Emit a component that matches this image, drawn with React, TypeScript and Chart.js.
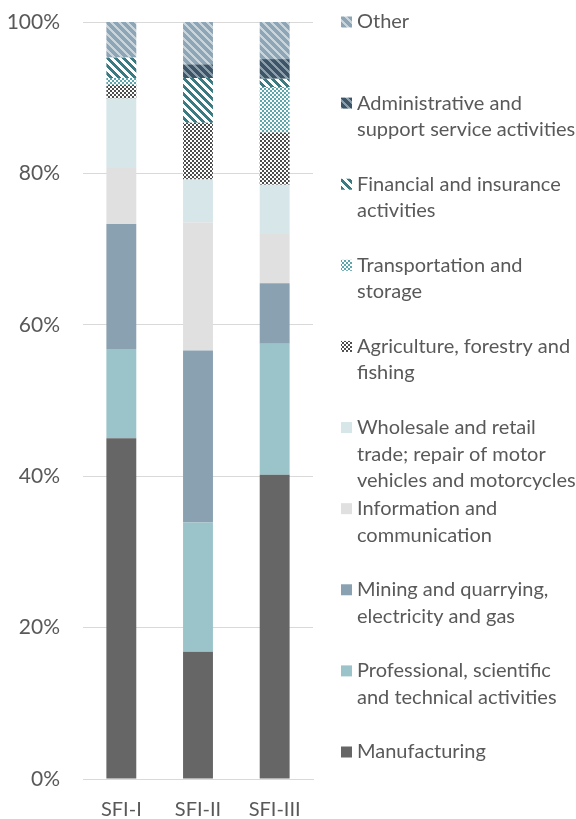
import React, { useEffect, useRef } from "react";
import { Chart, registerables } from "chart.js";

Chart.register(...registerables);

const categories = ["SFI-I", "SFI-II", "SFI-III"];

// bottom-to-top stacking order
const manufacturing = [45.0, 16.8, 40.2];
const professional = [11.8, 17.1, 17.3];
const mining = [16.5, 22.7, 8.0];
const information = [7.4, 16.9, 6.5];
const wholesale = [9.2, 5.7, 6.5];
const agriculture = [1.8, 7.5, 6.9];
const transportation = [0.9, 0.0, 6.0];
const financial = [2.7, 5.9, 1.1];
const administrative = [0.0, 1.8, 2.6];
const other = [4.7, 5.6, 4.9];

const yTicks = [0, 20, 40, 60, 80, 100];

const labelManufacturing = ["Manufacturing"];
const labelProfessional = ["Professional, scientific", "and technical activities"];
const labelMining = ["Mining and quarrying,", "electricity and gas"];
const labelInformation = ["Information and", "communication"];
const labelWholesale = ["Wholesale and retail", "trade; repair of motor", "vehicles and motorcycles"];
const labelAgriculture = ["Agriculture, forestry and", "fishing"];
const labelTransportation = ["Transportation and", "storage"];
const labelFinancial = ["Financial and insurance", "activities"];
const labelAdministrative = ["Administrative and", "support service activities"];
const labelOther = ["Other"];

type PixFn = (x: number, y: number) => string;

function makePattern(size: number, fn: PixFn): CanvasPattern | string {
  const c = document.createElement("canvas");
  c.width = size;
  c.height = size;
  const g = c.getContext("2d");
  if (!g) return "#999";
  for (let y = 0; y < size; y++) {
    for (let x = 0; x < size; x++) {
      g.fillStyle = fn(x, y);
      g.fillRect(x, y, 1, 1);
    }
  }
  const p = g.createPattern(c, "repeat");
  return p || "#999";
}

function stripes(base: string, stripe: string, period: number, w: number): PixFn {
  return (x, y) => ((((x - y) % period) + period) % period < w ? stripe : base);
}

function checker(a: string, b: string, cell: number): PixFn {
  return (x, y) => ((Math.floor(x / cell) + Math.floor(y / cell)) % 2 === 0 ? a : b);
}

export default function App() {
  const ref = useRef<HTMLCanvasElement | null>(null);

  useEffect(() => {
    if (!ref.current) return;

    const fills = {
      manufacturing: "#666666",
      professional: "#9BC4CA",
      mining: "#8AA1B1",
      information: "#E0E0E0",
      wholesale: "#D6E6E9",
      agriculture: makePattern(4, checker("#4D4D4D", "#FFFFFF", 2)),
      transportation: makePattern(4, checker("#5CA7AE", "#FFFFFF", 2)),
      financial: makePattern(8, stripes("#FFFFFF", "#3A7A80", 8, 4)),
      administrative: makePattern(8, stripes("#3E5567", "#8C9FAD", 8, 3)),
      other: makePattern(8, stripes("#8EA5B6", "#C9D5DD", 8, 3)),
    };

    const series = [
      { label: labelManufacturing, data: manufacturing, bg: fills.manufacturing },
      { label: labelProfessional, data: professional, bg: fills.professional },
      { label: labelMining, data: mining, bg: fills.mining },
      { label: labelInformation, data: information, bg: fills.information },
      { label: labelWholesale, data: wholesale, bg: fills.wholesale },
      { label: labelAgriculture, data: agriculture, bg: fills.agriculture },
      { label: labelTransportation, data: transportation, bg: fills.transportation },
      { label: labelFinancial, data: financial, bg: fills.financial },
      { label: labelAdministrative, data: administrative, bg: fills.administrative },
      { label: labelOther, data: other, bg: fills.other },
    ];

    const legendPlugin = {
      id: "sideLegend",
      afterDraw(chart: any) {
        const ctx = chart.ctx as CanvasRenderingContext2D;
        const area = chart.chartArea;
        const items = chart.data.datasets.slice().reverse();
        const n = items.length;
        const top = area.top;
        const bottom = area.bottom - 27;
        const step = (bottom - top) / (n - 1);
        const lineH = 26.5;
        ctx.save();
        ctx.font = "20px Lato";
        ctx.textBaseline = "middle";
        ctx.textAlign = "left";
        items.forEach((ds: any, i: number) => {
          const cy = top + i * step;
          ctx.fillStyle = ds.backgroundColor;
          ctx.fillRect(341, cy - 5.5, 11, 11);
          ctx.fillStyle = "#595959";
          (ds.legendLines as string[]).forEach((line, j) => {
            ctx.fillText(line, 357, cy + j * lineH);
          });
        });
        ctx.restore();
      },
    };

    const chart = new Chart(ref.current, {
      type: "bar",
      data: {
        labels: categories,
        datasets: series.map((s) => ({
          label: s.label.join(" "),
          legendLines: s.label,
          data: s.data,
          backgroundColor: s.bg as any,
          borderWidth: 0,
          categoryPercentage: 1,
          barPercentage: 0.39,
        })) as any,
      },
      options: {
        animation: false,
        responsive: false,
        devicePixelRatio: 1,
        layout: { padding: { top: 22, right: 263, left: 0, bottom: 0 } },
        plugins: {
          legend: { display: false },
          tooltip: { enabled: false },
        },
        scales: {
          x: {
            stacked: true,
            grid: { display: false, drawTicks: false },
            border: { display: true, color: "#D9D9D9", width: 1 },
            ticks: { color: "#595959", font: { family: "Lato", size: 20 }, padding: 19 },
            afterFit: (s: any) => {
              s.height = 40;
              s.paddingLeft = 0;
              s.paddingRight = 0;
            },
          },
          y: {
            stacked: true,
            min: 0,
            max: 100,
            afterBuildTicks: (s: any) => {
              s.ticks = yTicks.map((v) => ({ value: v }));
            },
            grid: { color: "#D9D9D9", lineWidth: 1, drawTicks: false },
            border: { display: false },
            ticks: {
              color: "#595959",
              font: { family: "Lato", size: 21 },
              padding: 23,
              callback: (v: any) => v + "%",
            },
            afterFit: (s: any) => {
              s.width = 83;
              s.paddingTop = 0;
              s.paddingBottom = 0;
            },
          },
        },
      },
      plugins: [legendPlugin],
    });

    return () => chart.destroy();
  }, []);

  return (
    <div style={{ position: "absolute", left: 0, top: 0, width: 576, height: 819, background: "#fff" }}>
      <canvas ref={ref} width={576} height={819} style={{ width: 576, height: 819, display: "block" }} />
    </div>
  );
}
